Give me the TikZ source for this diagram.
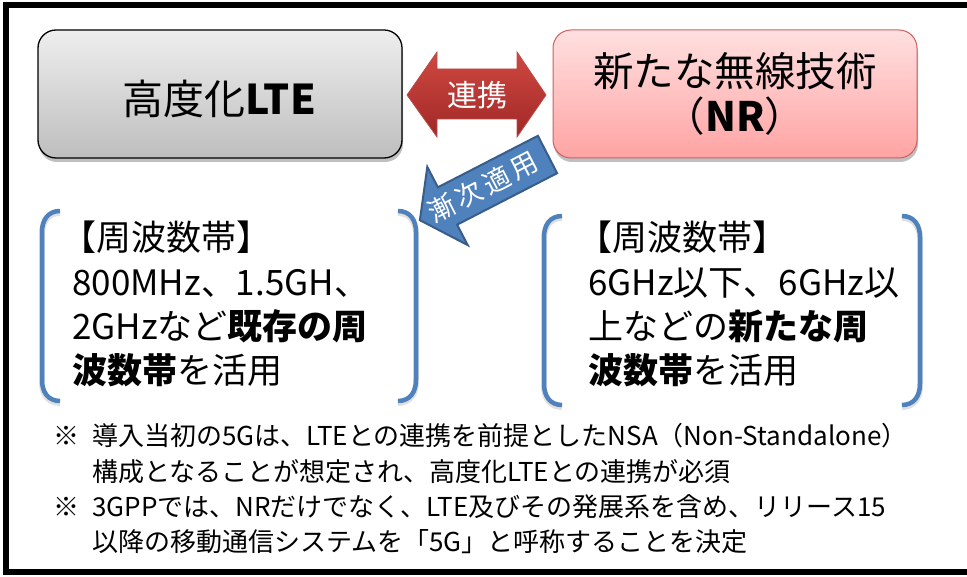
\documentclass[tikz,border=0pt]{standalone}
\usepackage{fontspec}
\setmainfont{Noto Sans CJK JP}
\usetikzlibrary{shadows}
\definecolor{grayT}{RGB}{238,238,238}
\definecolor{grayB}{RGB}{190,190,190}
\definecolor{pinkT}{RGB}{255,224,224}
\definecolor{pinkB}{RGB}{255,163,163}
\definecolor{pinkD}{RGB}{205,95,95}
\definecolor{redT}{RGB}{208,72,66}
\definecolor{redB}{RGB}{160,40,38}
\definecolor{redD}{RGB}{185,74,72}
\definecolor{blueF}{RGB}{79,129,189}
\definecolor{blueD}{RGB}{56,93,138}
\tikzset{
  topbox/.style={rounded corners=18pt, minimum width=364pt, minimum height=128pt, line width=1.3pt,
    drop shadow={shadow xshift=1pt, shadow yshift=-4pt, opacity=0.25, fill=black}},
  bracket/.style={draw=blueF, line width=4.5pt,
    preaction={draw=black, opacity=0.12, line width=6pt, transform canvas={yshift=-2pt}}},
  btext/.style={anchor=base west, font=\fontsize{35}{35}\selectfont, inner sep=0pt},
  note/.style={anchor=base west, font=\fontsize{26}{30}\selectfont, inner sep=0pt},
}
\begin{document}
\begin{tikzpicture}[x=1pt,y=-1pt]
\useasboundingbox (0,0) rectangle (967,577);
\fill[white] (0,0) rectangle (967,577);
\draw[line width=6pt] (967,5) -- (6,5) -- (6,572) -- (967,572);

% top boxes
\node[topbox, draw=black, top color=grayT, bottom color=grayB] (lte) at (220,94) {};
\node[font=\fontsize{41}{42}\selectfont] (ltetext) at (219,99) {高度化\textbf{LTE}};
\node[topbox, draw=pinkD, line width=1pt, top color=pinkT, bottom color=pinkB, align=center,
      font=\fontsize{40.5}{45}\selectfont] (nr) at (735,94) {新たな無線技術\\（\textbf{NR}）};

% red double arrow
\draw[draw=redD, line width=0.8pt, top color=redT, bottom color=redB, line join=miter]
  (407,95) -- (437,52) -- (437,69) -- (517,69) -- (517,52) -- (546,95) -- (517,137)
  -- (517,119) -- (437,119) -- (437,137) -- cycle;
\node[white, font=\fontsize{30}{30}\selectfont] (renkei) at (477,95) {連携};

% blue arrow
\draw[fill=blueF, draw=blueD, line width=2pt, line join=miter]
  (537.9,135.8) -- (437.9,187.3) -- (427.3,166.9) -- (419.9,220.2) -- (467.7,245.1)
  -- (457.1,224.7) -- (557.1,173.2) -- cycle;
\node[white, rotate=27.3, inner sep=0pt, font=\fontsize{27}{27}\selectfont] (zenji) at (483,187)
  {漸\hspace{4pt}次\hspace{4pt}適\hspace{4pt}用};

% brackets
\draw[bracket] (60,211) .. controls (48,211) and (42,220) .. (42,232) -- (42,380)
  .. controls (42,392) and (48,401) .. (60,401);
\draw[bracket] (398,211) .. controls (410,211) and (416,220) .. (416,232) -- (416,380)
  .. controls (416,392) and (410,401) .. (398,401);
\draw[bracket] (562,216) .. controls (550,216) and (544,225) .. (544,237) -- (544,384)
  .. controls (544,396) and (550,405) .. (562,405);
\draw[bracket] (902,216) .. controls (914,216) and (920,225) .. (920,237) -- (920,384)
  .. controls (920,396) and (914,405) .. (902,405);

% bracket texts
\node[btext] (l1) at (61,251) {【周波数帯】};
\node[btext] (l2) at (72,296) {800MHz、1.5GH、};
\node[btext] (l3) at (72,340) {2GHzなど\textbf{既存の周}};
\node[btext] (l4) at (72,384) {\textbf{波数帯}を活用};
\node[btext] (r1) at (577,251) {【周波数帯】};
\node[btext] (r2) at (588,296) {6GHz以下、6GHz以};
\node[btext] (r3) at (588,340) {上などの\textbf{新たな周}};
\node[btext] (r4) at (588,384) {\textbf{波数帯}を活用};

% notes
\node[note] (m1) at (53,445) {※};
\node[note] (n1) at (92,445) {導入当初の5Gは、LTEとの連携を前提としたNSA（Non-Standalone）};
\node[note] (n2) at (92,481) {構成となることが想定され、高度化LTEとの連携が必須};
\node[note] (m2) at (53,516) {※};
\node[note] (n3) at (92,516) {3GPPでは、NRだけでなく、LTE及びその発展系を含め、リリース15};
\node[note] (n4) at (92,551) {以降の移動通信システムを「5G」と呼称することを決定};
\end{tikzpicture}
\end{document}
